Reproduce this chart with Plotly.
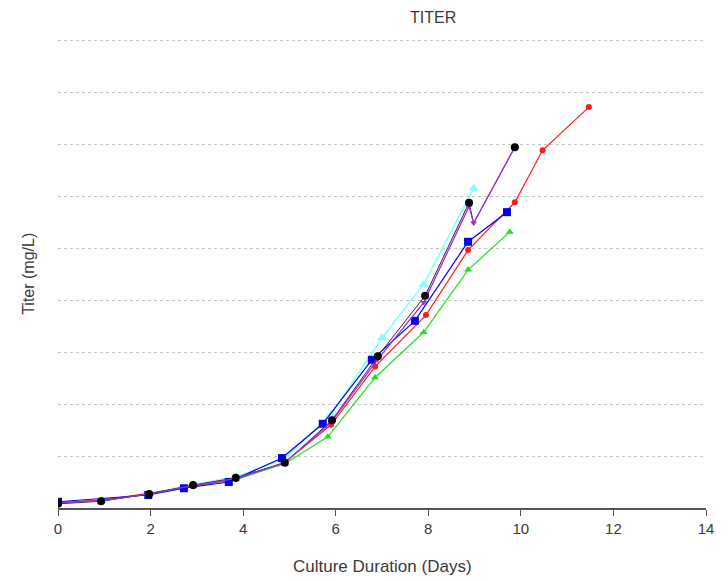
import plotly.graph_objects as go

# Data (y in grid units of the unlabeled titer axis)
red_x = [0, 0.95, 1.97, 2.92, 3.85, 4.9, 5.9, 6.85, 7.95, 8.86, 9.87, 10.47, 11.47]
red_y = [0.1, 0.15, 0.28, 0.42, 0.56, 0.88, 1.6, 2.72, 3.71, 4.96, 5.88, 6.88, 7.71]

green_x = [0, 0.93, 1.97, 2.92, 3.85, 4.9, 5.83, 6.85, 7.9, 8.86, 9.76]
green_y = [0.1, 0.14, 0.27, 0.42, 0.55, 0.85, 1.37, 2.51, 3.38, 4.58, 5.31]

blue_x = [0, 1.95, 2.72, 3.69, 4.84, 5.72, 6.78, 7.71, 8.86, 9.70]
blue_y = [0.12, 0.25, 0.38, 0.5, 0.96, 1.62, 2.85, 3.6, 5.12, 5.69]

cyan_x = [0, 0.95, 1.97, 2.92, 3.85, 4.9, 5.9, 7.0, 7.9, 8.98]
cyan_y = [0.1, 0.15, 0.28, 0.45, 0.6, 0.95, 1.8, 3.27, 4.3, 6.15]

purple_x = [0, 0.95, 1.97, 2.92, 3.85, 4.9, 5.9, 6.9, 7.9, 8.88, 8.98, 9.87]
purple_y = [0.1, 0.14, 0.27, 0.43, 0.57, 0.87, 1.65, 2.85, 3.95, 5.8, 5.48, 6.94]

black_x = [0, 0.93, 1.97, 2.92, 3.84, 4.9, 5.92, 6.91, 7.93, 8.88, 8.98, 9.87]
black_y = [0.08, 0.13, 0.27, 0.44, 0.58, 0.87, 1.69, 2.92, 4.08, 5.87, 5.48, 6.94]
black_sampled = [True] * 10 + [False, True]  # dip point carries the purple marker

x_ticks = [0, 2, 4, 6, 8, 10, 12, 14]

FONT = "Liberation Sans"
TXT = "#3a3a3a"

fig = go.Figure()

def add(x, y, color, symbol, size, lw=1.2, lcolor=None, lines=True, markers=True):
    mode = "+".join([m for m, on in (("lines", lines), ("markers", markers)) if on])
    fig.add_trace(go.Scatter(
        x=x, y=y, mode=mode,
        line=dict(color=lcolor or color, width=lw),
        marker=dict(color=color, symbol=symbol, size=size, opacity=1,
                    line=dict(width=0)),
        showlegend=False, hoverinfo="x+y"))

add(cyan_x, cyan_y, "#7fffff", "triangle-up", 9, 1.5)
add(green_x, green_y, "#22dd22", "triangle-up", 7)
add(red_x, red_y, "#ff1a1a", "circle", 6)
add(blue_x, blue_y, "#0000ee", "square", 8)
add(black_x, black_y, "#111111", "circle", 8, 1.0, lcolor="#3a1f4a", markers=False)
add(purple_x, purple_y, "#9b30d0", "triangle-down", 6, 1.3)
add([x for x, s in zip(black_x, black_sampled) if s],
    [y for y, s in zip(black_y, black_sampled) if s],
    "#000000", "circle", 8, lines=False)

fig.update_layout(
    width=728, height=581,
    margin=dict(l=58, r=22, t=39, b=73, autoexpand=False),
    paper_bgcolor="white", plot_bgcolor="white",
    font=dict(family=FONT, color=TXT, size=15),
    showlegend=False,
    xaxis=dict(
        range=[0, 14], tickvals=x_ticks, ticktext=[str(v) for v in x_ticks],
        showgrid=False, zeroline=False, automargin=False,
        showline=True, linecolor="#555", linewidth=1.5,
        ticks="outside", ticklen=6, tickcolor="#555",
        tickfont=dict(size=15, color=TXT),
    ),
    yaxis=dict(
        range=[0, 9.02], dtick=1, tick0=0, automargin=False,
        showticklabels=False, zeroline=False, showline=False,
        showgrid=True, gridcolor="#c4c4c4", gridwidth=1, griddash="dot",
    ),
    annotations=[
        dict(text="TITER", xref="paper", yref="paper",
             x=0.578, y=1.0, yshift=32, showarrow=False,
             font=dict(size=16, color=TXT)),
        dict(text="Titer (mg/L)", xref="paper", yref="paper",
             x=-0.062, y=0.5, textangle=-90, showarrow=False,
             font=dict(size=16, color=TXT)),
        dict(text="Culture Duration (Days)", xref="paper", yref="paper",
             x=0.5, y=0, yshift=-70, showarrow=False,
             font=dict(size=17, color=TXT)),
    ],
)

fig.write_html("out.html")
